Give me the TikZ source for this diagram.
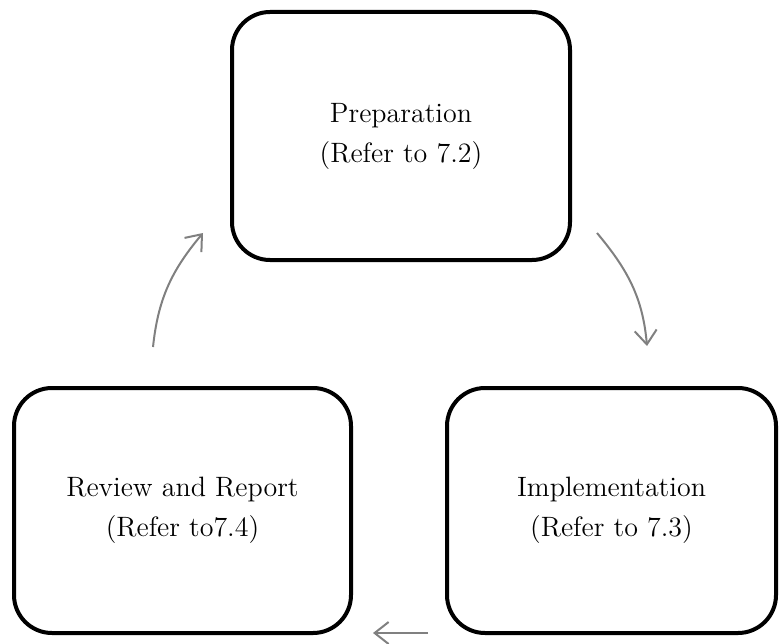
\documentclass[tikz,border=0pt]{standalone}
\usepackage{tikz}
\usetikzlibrary{positioning,calc,arrows.meta}

\begin{document}
\begin{tikzpicture}[x=0.5pt,y=0.5pt,
  phase/.style={draw, line width=2pt, rounded corners=19pt, outer sep=0pt, align=center, font=\fontsize{14}{20}\selectfont},
  flow/.style={draw=gray, line width=1pt, -{Straight Barb[length=7pt,width=11pt]}}]
% Fix the picture size
\useasboundingbox (0,0) rectangle (779,643);

% Draw phase boxes
\node[phase, minimum width=169pt, minimum height=124pt] (prep) at (401,507) {Preparation\\(Refer to 7.2)};
\node[phase, minimum width=168.5pt, minimum height=122.5pt] (review) at (182.5,132.5) {Review and Report\\(Refer to7.4)};
\node[phase, minimum width=164.5pt, minimum height=122.5pt] (impl) at (611.5,132.5) {Implementation\\(Refer to 7.3)};

% Draw cycle arrows
\draw[flow] ($(prep.south east)+(27,27)$) to[out=-50, in=95] ($(impl.north)+(35.5,42)$);
\draw[flow] ($(impl.south west)+(-19,0)$) -- ($(review.south east)+(22,0)$);
\draw[flow] ($(review.north)+(-29.5,41)$) to[out=84, in=230] ($(prep.south west)+(-29,27)$);

\end{tikzpicture}
\end{document}
